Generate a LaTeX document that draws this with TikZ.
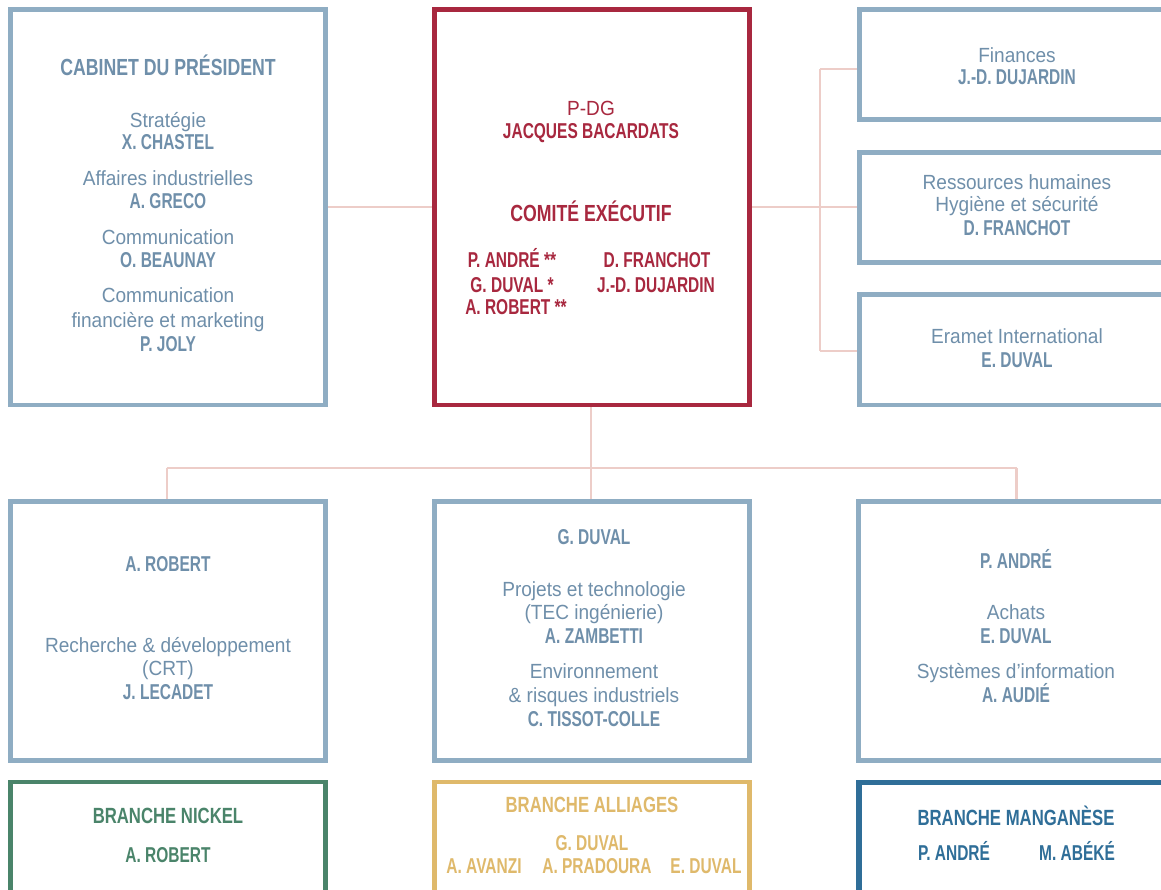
\documentclass[tikz,border=0pt]{standalone}
\usepackage{fontspec}
\newfontfamily\rgf[FakeStretch=0.93]{Liberation Sans}
\newfontfamily\cbf[FakeStretch=0.76]{Liberation Sans}
\newfontfamily\cnf[FakeStretch=0.72]{Liberation Sans}
\definecolor{boxblue}{HTML}{8FADC3}
\definecolor{txtblue}{HTML}{6F8FAA}
\definecolor{ceored}{HTML}{A8283F}
\definecolor{connpink}{HTML}{EDCDC8}
\definecolor{nickgreen}{HTML}{4A846A}
\definecolor{allgold}{HTML}{DFB96B}
\definecolor{mangblue}{HTML}{2F6E98}
\tikzset{
  box/.style={draw=boxblue, line width=4.6pt, fill=white, inner sep=0pt},
  conn/.style={draw=connpink, line width=2.4pt},
  rg/.style={anchor=base, inner sep=0pt, text=txtblue, font={\rgf\fontsize{20.5}{24}\selectfont}},
  nm/.style={anchor=base, inner sep=0pt, text=txtblue, font={\cnf\bfseries\fontsize{21.5}{24}\selectfont}},
  hd/.style={anchor=base, inner sep=0pt, text=txtblue, font={\cbf\bfseries\fontsize{23.3}{26}\selectfont}},
  hdb/.style={anchor=base, inner sep=0pt, font={\cbf\bfseries\fontsize{22}{26}\selectfont}},
}
\begin{document}
\begin{tikzpicture}[x=1pt,y=-1pt]
\useasboundingbox (0,0) rectangle (1161,890);
\clip (0,0) rectangle (1161,890);
% boxes
\node[box, minimum width=315.4pt, minimum height=395.4pt] (cab) at (168,207.3) {};
\node[box, draw=ceored, minimum width=315.4pt, minimum height=395.4pt] (ceo) at (592,207.3) {};
\node[box, minimum width=315.4pt, minimum height=109.8pt] (fin) at (1017,64.5) {};
\node[box, minimum width=315.4pt, minimum height=110.4pt] (rh) at (1017,207.5) {};
\node[box, minimum width=315.4pt, minimum height=110.4pt] (era) at (1017,349.8) {};
\node[box, minimum width=315.4pt, minimum height=258.8pt] (rd) at (168,631) {};
\node[box, minimum width=315.4pt, minimum height=258.8pt] (proj) at (592,631) {};
\node[box, minimum width=315.4pt, minimum height=258.8pt] (ach) at (1016,631) {};
\node[box, draw=nickgreen, minimum width=315.4pt, minimum height=165.4pt] (nick) at (168,864.7) {};
\node[box, draw=allgold, minimum width=315.4pt, minimum height=165.4pt] (all) at (592,864.7) {};
\node[box, draw=mangblue, line width=5.6pt, minimum width=314.4pt, minimum height=164.4pt] (mang) at (1016,864.7) {};
% connectors
\draw[conn] (cab.east) -- (ceo.west);
\coordinate (jr) at (820,207.3);
\coordinate (jf) at (820,69);
\coordinate (je) at (820,351);
\draw[conn] (ceo.east) -- (jr);
\draw[conn] (jf) -- (je);
\draw[conn] (jf) -- (fin.west |- jf);
\draw[conn] (jr) -- (rh.west |- jr);
\draw[conn] (je) -- (era.west |- je);
\coordinate (jb) at (591,468);
\coordinate (jbl) at (166.7,468);
\coordinate (jbr) at (1016.5,468);
\draw[conn] (ceo.south -| jb) -- (jb);
\draw[conn] (jbl) -- (jbr);
\draw[conn] (jbl) -- (jbl |- rd.north);
\draw[conn] (jb) -- (jb |- proj.north);
\draw[conn] (jbr) -- (jbr |- ach.north);
% cabinet text
\node[hd] (c0) at (168,76) {CABINET DU PRÉSIDENT};
\node[rg] (c1) at (168,128) {Stratégie};
\node[nm] (c2) at (168,150) {X. CHASTEL};
\node[rg] (c3) at (168,186) {Affaires industrielles};
\node[nm] (c4) at (168,209) {A. GRECO};
\node[rg] (c5) at (168,245) {Communication};
\node[nm] (c6) at (168,268) {O. BEAUNAY};
\node[rg] (c7) at (168,303) {Communication};
\node[rg] (c8) at (168,327) {financière et marketing};
\node[nm] (c9) at (168,351) {P. JOLY};
% ceo text
\node[rg, text=ceored] (e1) at (591,116) {P-DG};
\node[nm, text=ceored] (e2) at (591,139) {JACQUES BACARDATS};
\node[hd, text=ceored] (e3) at (591,222) {COMITÉ EXÉCUTIF};
\node[nm, text=ceored] (e4) at (512,268) {P. ANDRÉ **};
\node[nm, text=ceored] (e5) at (512,293) {G. DUVAL *};
\node[nm, text=ceored] (e6) at (516,315) {A. ROBERT **};
\node[nm, text=ceored] (e7) at (657,268) {D. FRANCHOT};
\node[nm, text=ceored] (e8) at (656,293) {J.-D. DUJARDIN};
% right column text
\node[rg] (f1) at (1017,63) {Finances};
\node[nm] (f2) at (1017,85) {J.-D. DUJARDIN};
\node[rg] (h1) at (1017,190) {Ressources humaines};
\node[rg] (h2) at (1017,212) {Hygiène et sécurité};
\node[nm] (h3) at (1017,236) {D. FRANCHOT};
\node[rg] (i1) at (1017,344) {Eramet International};
\node[nm] (i2) at (1017,367) {E. DUVAL};
% bottom row text
\node[nm] (r1) at (168,571) {A. ROBERT};
\node[rg] (r2) at (168,652) {Recherche \& développement};
\node[rg] (r3) at (168,675) {(CRT)};
\node[nm] (r4) at (168,699) {J. LECADET};
\node[nm] (p1) at (594,544) {G. DUVAL};
\node[rg] (p2) at (594,596) {Projets et technologie};
\node[rg] (p3) at (594,619) {(TEC ingénierie)};
\node[nm] (p4) at (594,643) {A. ZAMBETTI};
\node[rg] (p5) at (594,678) {Environnement};
\node[rg] (p6) at (594,702) {\& risques industriels};
\node[nm] (p7) at (594,726) {C. TISSOT-COLLE};
\node[nm] (a1) at (1016,568) {P. ANDRÉ};
\node[rg] (a2) at (1016,619) {Achats};
\node[nm] (a3) at (1016,643) {E. DUVAL};
\node[rg] (a4) at (1016,678) {Systèmes d’information};
\node[nm] (a5) at (1016,702) {A. AUDIÉ};
% branches
\node[hdb, text=nickgreen] (n1) at (168,823) {BRANCHE NICKEL};
\node[nm, text=nickgreen] (n2) at (168,862) {A. ROBERT};
\node[hdb, text=allgold] (l1) at (592,812) {BRANCHE ALLIAGES};
\node[nm, text=allgold] (l2) at (592,850) {G. DUVAL};
\node[nm, text=allgold] (l3) at (484,873) {A. AVANZI};
\node[nm, text=allgold] (l4) at (597,873) {A. PRADOURA};
\node[nm, text=allgold] (l5) at (706,873) {E. DUVAL};
\node[hdb, text=mangblue] (m1) at (1016,825) {BRANCHE MANGANÈSE};
\node[nm, text=mangblue] (m2) at (954,860) {P. ANDRÉ};
\node[nm, text=mangblue] (m3) at (1077,860) {M. ABÉKÉ};
\end{tikzpicture}
\end{document}
